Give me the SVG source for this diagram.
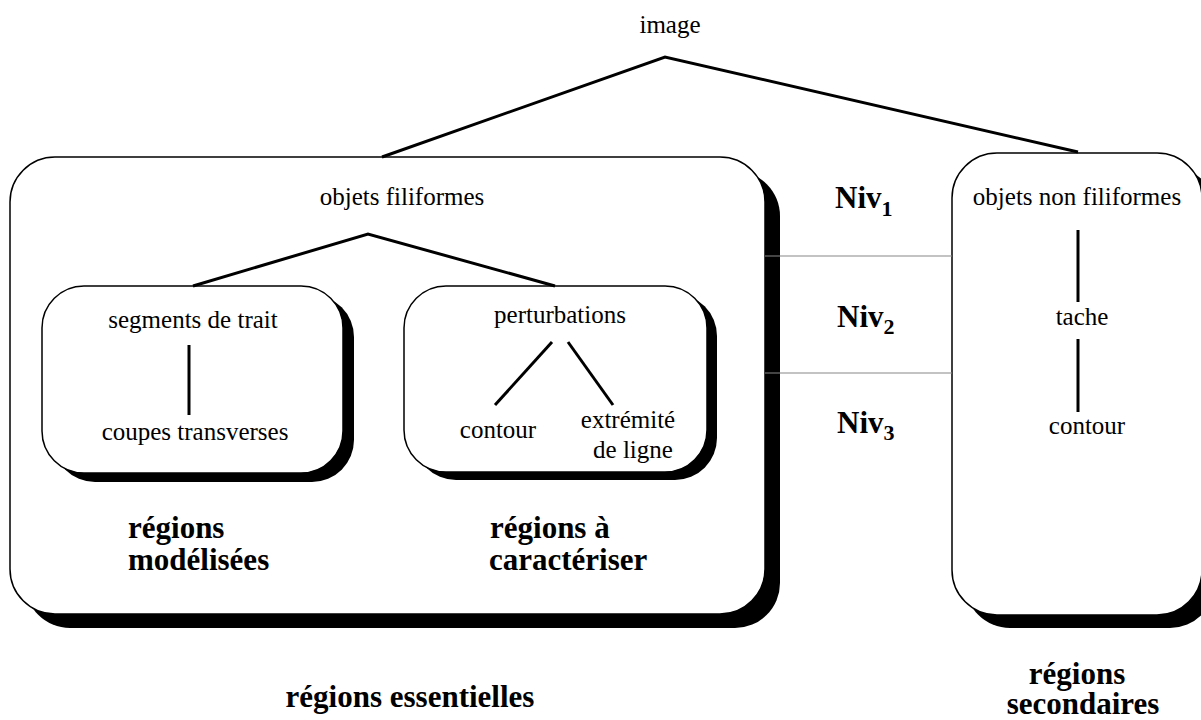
<svg xmlns="http://www.w3.org/2000/svg" width="1201" height="720" viewBox="0 0 1201 720">
<style>
.box{fill:#fff;stroke:#000;stroke-width:1.5}
.sh{fill:#000}
.t{font-family:"Liberation Serif","Times New Roman","DejaVu Serif",serif;font-size:25px;font-weight:normal;fill:#000}
.b{font-family:"Liberation Serif","Times New Roman","DejaVu Serif",serif;font-size:31px;font-weight:bold;fill:#000}
.c{text-anchor:middle}
.ln{stroke:#000;stroke-width:3;fill:none}
.gl{stroke:#888;stroke-width:1.2}
</style>
<rect width="1201" height="720" fill="#fff"/>
<g id="essentielles">
<rect class="sh" x="25" y="171" width="755" height="457" rx="45"/>
<rect class="box" x="10" y="157" width="755" height="457" rx="45"/>
<text class="t c" x="402" y="205">objets filiformes</text>
</g>
<g id="secondaires">
<rect class="sh" x="965" y="166" width="250" height="462" rx="45"/>
<rect class="box" x="952" y="153" width="250" height="462" rx="45"/>
<text class="t c" x="1077" y="205">objets non filiformes</text>
<text class="t c" x="1082" y="325">tache</text>
<text class="t c" x="1087" y="434">contour</text>
</g>
<g id="modelisees">
<rect class="sh" x="53" y="295" width="301" height="187" rx="42"/>
<rect class="box" x="42" y="286" width="301" height="187" rx="42"/>
<text class="t c" x="193" y="328">segments de trait</text>
<text class="t c" x="195" y="440">coupes transverses</text>
</g>
<g id="caracteriser">
<rect class="sh" x="414" y="294" width="303" height="186" rx="42"/>
<rect class="box" x="404" y="286" width="303" height="186" rx="42"/>
<text class="t c" x="560" y="323">perturbations</text>
<text class="t c" x="498" y="438">contour</text>
<text class="t c" x="628" y="428">extrémité</text>
<text class="t c" x="633" y="458">de ligne</text>
</g>
<g id="image">
<text class="t c" x="670" y="33">image</text>
</g>
<g id="connectors">
<polyline class="ln" points="382,157 665,57 1078,152"/>
<polyline class="ln" points="193,286 368,234 555,286"/>
<line class="ln" x1="189" y1="345" x2="189" y2="415"/>
<line class="ln" x1="552" y1="342" x2="495" y2="405"/>
<line class="ln" x1="568" y1="342" x2="613" y2="405"/>
<line class="ln" x1="1078" y1="230" x2="1078" y2="302"/>
<line class="ln" x1="1078" y1="339" x2="1078" y2="412"/>
<line class="gl" x1="765" y1="256" x2="952" y2="256"/>
<line class="gl" x1="765" y1="373" x2="952" y2="373"/>
</g>
<g id="labels">
<text class="b" x="835" y="208">Niv<tspan font-size="22" dy="8">1</tspan></text>
<text class="b" x="837" y="327">Niv<tspan font-size="22" dy="7">2</tspan></text>
<text class="b" x="837" y="433">Niv<tspan font-size="22" dy="7">3</tspan></text>
<text class="b" x="128" y="538">régions</text>
<text class="b" x="128" y="570">modélisées</text>
<text class="b" x="490" y="538">régions à</text>
<text class="b" x="489" y="570">caractériser</text>
<text class="b c" x="410" y="707">régions essentielles</text>
<text class="b c" x="1077" y="684">régions</text>
<text class="b c" x="1083" y="714">secondaires</text>
</g>
</svg>
